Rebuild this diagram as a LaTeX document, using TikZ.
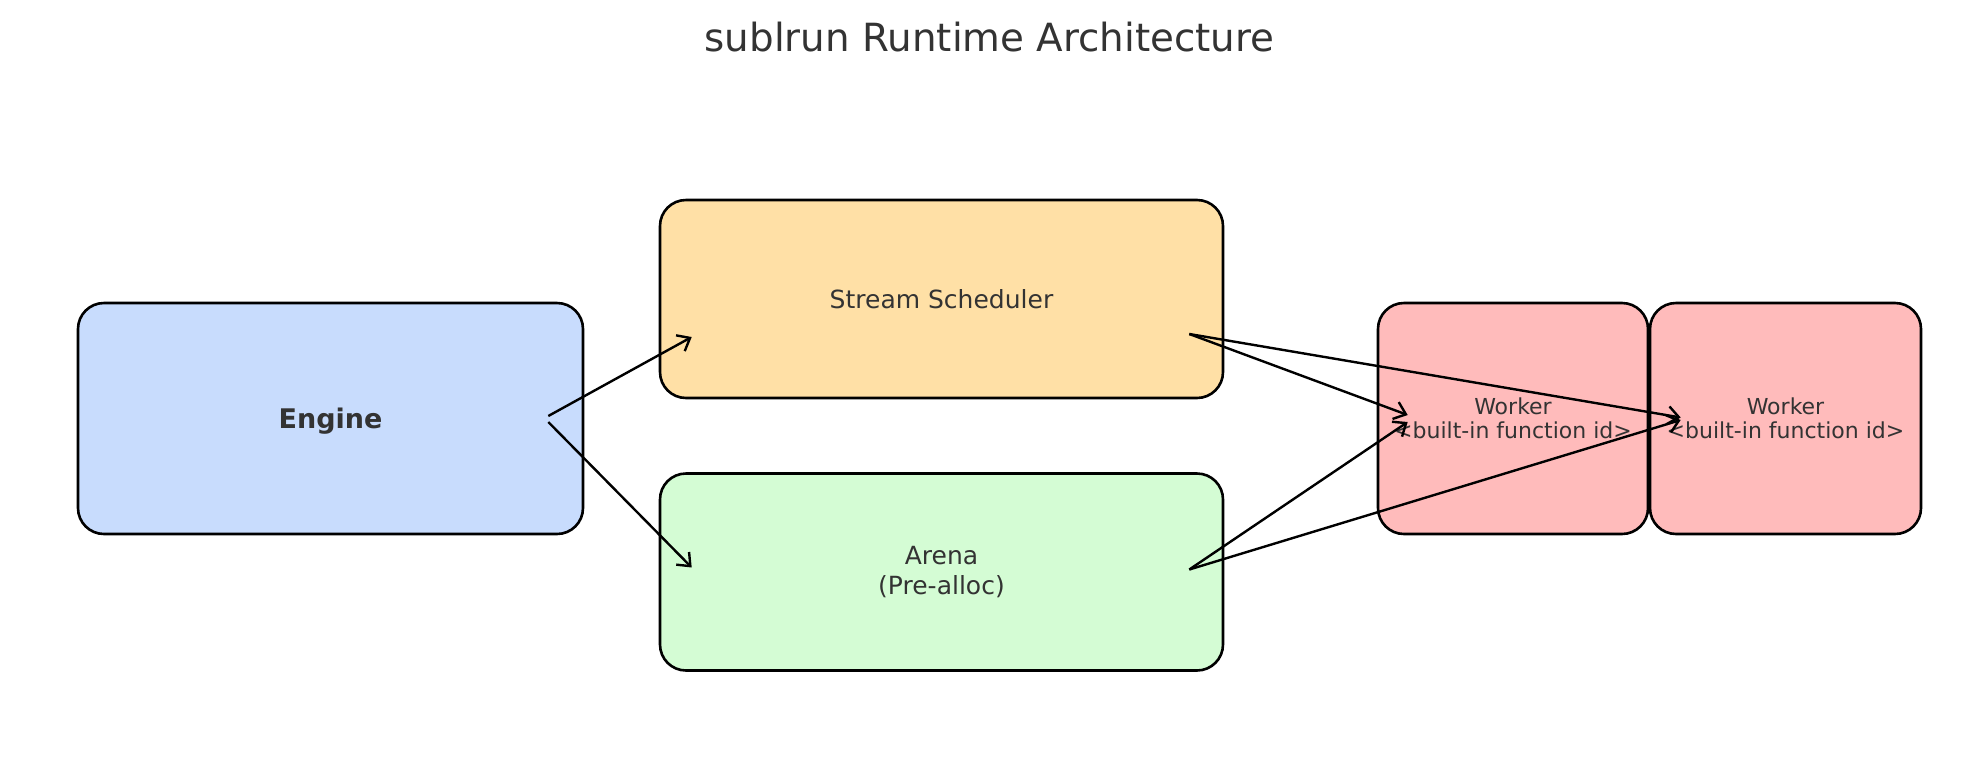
\documentclass[tikz,border=0pt]{standalone}
\usepackage{fontspec}
\setmainfont{DejaVu Sans}
\usetikzlibrary{arrows.meta,calc}
\definecolor{txt}{HTML}{333333}
\definecolor{engfill}{HTML}{C8DCFD}
\definecolor{schedfill}{HTML}{FFE0A6}
\definecolor{arenafill}{HTML}{D4FCD4}
\definecolor{workfill}{HTML}{FFBBBB}
\begin{document}
\begin{tikzpicture}[x=1pt,y=-1pt,
  box/.style={draw=black,line width=2.6pt,rounded corners=26pt,inner sep=0pt,text=txt,align=center},
  conn/.style={draw=black,line width=2.4pt,-{Straight Barb[length=11pt,width=18pt,line width=2.4pt]}},
  boxfont/.style={font=\fontsize{25}{29.5}\selectfont},
  workfont/.style={font=\fontsize{22}{23.5}\selectfont}]
\useasboundingbox (0,0) rectangle (1979,780);
\node[text=txt,font=\fontsize{38.8}{44}\selectfont] (title) at (989.5,37) {sublrun Runtime Architecture};
\node[box,fill=engfill,minimum width=505pt,minimum height=231pt] (eng) at (330.5,418.5) {};
\node[text=txt,font=\fontsize{27}{32}\selectfont\bfseries] (englabel) at (330.5,421) {Engine};
\node[box,boxfont,fill=schedfill,minimum width=563pt,minimum height=198pt] (sched) at (941.5,299) {Stream Scheduler};
\node[box,boxfont,fill=arenafill,minimum width=563pt,minimum height=197pt] (arena) at (941.5,572) {Arena\\(Pre-alloc)};
\node[box,workfont,fill=workfill,minimum width=270pt,minimum height=231pt] (w1) at (1513,418.5) {Worker\\<built-in function id>};
\node[box,workfont,fill=workfill,minimum width=271pt,minimum height=231pt] (w2) at (1785.5,418.5) {Worker\\<built-in function id>};
\coordinate (engA) at ($(eng.east)+(-36,-2.5)$);
\coordinate (engB) at ($(eng.east)+(-36,3.5)$);
\coordinate (schedIn) at ($(sched.west)+(33,38)$);
\coordinate (arenaIn) at ($(arena.west)+(33,-4.5)$);
\coordinate (schedOut) at ($(sched.east)+(-35,35)$);
\coordinate (arenaOut) at ($(arena.east)+(-35,-2.5)$);
\coordinate (w1A) at ($(w1.west)+(31,-3.5)$);
\coordinate (w1B) at ($(w1.west)+(31,3.5)$);
\coordinate (w2A) at ($(w2.west)+(32,-1)$);
\coordinate (w2B) at ($(w2.west)+(32,1.5)$);
\draw[conn] (engA) -- (schedIn);
\draw[conn] (engB) -- (arenaIn);
\draw[conn] (schedOut) -- (w1A);
\draw[conn] (schedOut) -- (w2A);
\draw[conn] (arenaOut) -- (w1B);
\draw[conn] (arenaOut) -- (w2B);
\end{tikzpicture}
\end{document}
